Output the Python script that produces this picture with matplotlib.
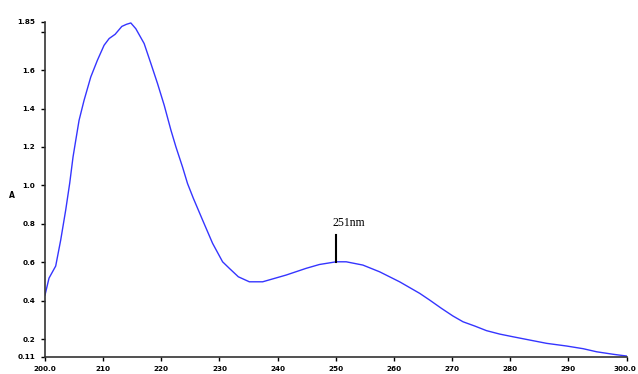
import matplotlib
matplotlib.use('Agg')
import matplotlib.pyplot as plt
import matplotlib.transforms as mtransforms

# UV spectrum
wavelength = [200.0, 200.69, 201.84, 202.70, 203.56, 204.25, 204.82, 205.29, 205.86,
              206.72, 207.87, 209.01, 210.16, 211.03, 212.06, 213.21, 214.01, 214.76,
              215.62, 217.05, 218.21, 219.35, 220.50, 221.66, 222.52, 223.65, 224.51,
              225.50, 227.10, 228.82, 230.54, 231.70, 233.25, 235.14, 237.43, 241.46,
              244.91, 247.20, 250.08, 251.80, 254.66, 257.54, 260.98, 264.43, 266.15,
              268.17, 270.16, 271.89, 273.90, 275.92, 278.21, 280.50, 283.37, 286.25,
              289.70, 292.56, 294.87, 297.73, 300.0]
absorbance = [0.430, 0.518, 0.581, 0.716, 0.872, 1.012, 1.148, 1.235, 1.339,
              1.443, 1.564, 1.651, 1.729, 1.764, 1.786, 1.827, 1.838, 1.845,
              1.815, 1.738, 1.634, 1.530, 1.417, 1.287, 1.200, 1.096, 1.010,
              0.934, 0.820, 0.699, 0.603, 0.569, 0.525, 0.499, 0.499, 0.534,
              0.569, 0.589, 0.603, 0.603, 0.586, 0.551, 0.499, 0.439, 0.404,
              0.361, 0.321, 0.291, 0.269, 0.245, 0.227, 0.213, 0.196, 0.179,
              0.165, 0.151, 0.135, 0.122, 0.113]

x_ticks = [200, 210, 220, 230, 240, 250, 260, 270, 280, 290, 300]
x_labels = ['200.0', '210', '220', '230', '240', '250', '260', '270', '280', '290', '300.0']
y_ticks = [0.11, 0.2, 0.4, 0.6, 0.8, 1.0, 1.2, 1.4, 1.6, 1.8, 1.85]
y_labels = ['0.11', '0.2', '0.4', '0.6', '0.8', '1.0', '1.2', '1.4', '1.6', '', '1.85']

peak_x = 250.0
peak_y = 0.603
peak_label = '251nm'

fig = plt.figure(figsize=(6.38, 3.74), dpi=100)
ax = fig.add_axes([45 / 638, 1 - 356.6 / 374, (626.5 - 45) / 638, (356.6 - 22) / 374])

ax.plot(wavelength, absorbance, color='#3535ff', lw=1.0)

ax.set_xlim(200, 300)
ax.set_ylim(0.11, 1.85)

ax.set_xticks(x_ticks)
ax.set_xticklabels(x_labels)
ax.set_yticks(y_ticks)
ax.set_yticklabels(y_labels)

for s in ['top', 'right']:
    ax.spines[s].set_visible(False)
for s in ['left', 'bottom']:
    ax.spines[s].set_linewidth(1.2)
    ax.spines[s].set_color('#333333')

ax.tick_params(axis='both', direction='out', length=3, width=1, colors='black',
               labelsize=5.2, pad=4)
for lab in ax.get_xticklabels() + ax.get_yticklabels():
    lab.set_fontweight('bold')

# last x label sits against the right edge in the original
last = ax.get_xticklabels()[-1]
last.set_transform(last.get_transform() + mtransforms.ScaledTranslation(-2 / 100, 0, fig.dpi_scale_trans))

fig.text(12 / 638, 1 - 195 / 374, 'A', fontsize=5.5, fontweight='bold', ha='center', va='center')

# peak marker
ax.plot([peak_x, peak_x], [peak_y, peak_y + 0.14], color='black', lw=1.5)
ax.text(peak_x - 0.6, peak_y + 0.17, peak_label, fontsize=8.5, family='Liberation Serif',
        ha='left', va='bottom')

fig.savefig('out.png', dpi=100, facecolor='white')
